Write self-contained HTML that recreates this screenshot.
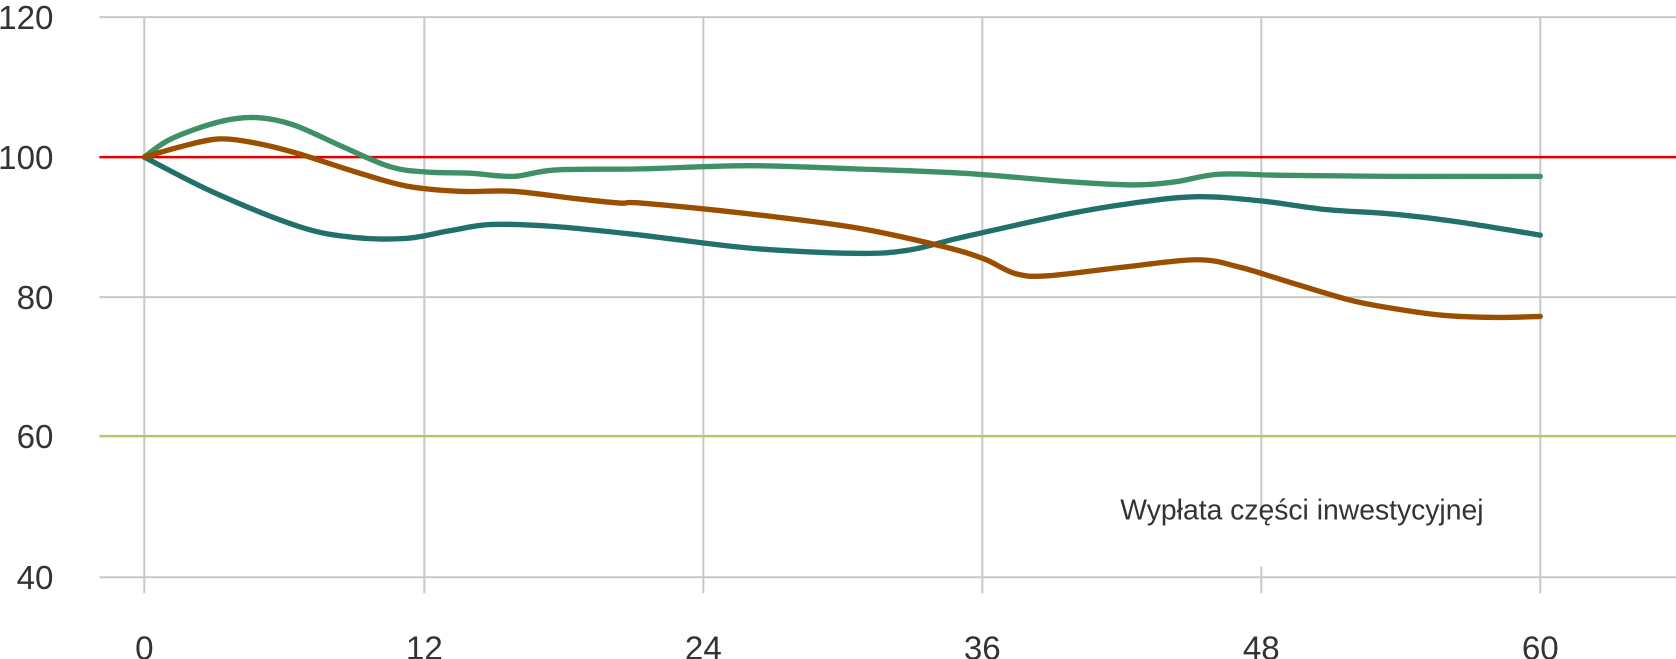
<!DOCTYPE html>
<html><head><meta charset="utf-8"><style>
html,body{margin:0;padding:0;background:#fff;}
svg{display:block;}
text{font-family:"Liberation Sans",sans-serif;fill:#333;font-weight:300;}
</style></head><body>
<svg width="1676" height="659" viewBox="0 0 1676 659" xmlns="http://www.w3.org/2000/svg">
<g transform="scale(1.0689)">
<g stroke="#c8c8c8" stroke-width="1.9" fill="none">
<line x1="93" y1="16" x2="1568" y2="16"/>
<line x1="93" y1="278" x2="1568" y2="278"/>
<line x1="93" y1="540" x2="1568" y2="540"/>
<line x1="135" y1="16" x2="135" y2="555"/>
<line x1="397" y1="16" x2="397" y2="555"/>
<line x1="658" y1="16" x2="658" y2="555"/>
<line x1="919" y1="16" x2="919" y2="555"/>
<line x1="1180" y1="16" x2="1180" y2="484"/>
<line x1="1180" y1="530" x2="1180" y2="555"/>
<line x1="1441" y1="16" x2="1441" y2="555"/>
</g>
<line x1="93" y1="147" x2="1568" y2="147" stroke="#e00000" stroke-width="2.3"/>
<line x1="93" y1="408" x2="1568" y2="408" stroke="#bcc46a" stroke-width="2.3"/>
<g fill="none" stroke-width="5" stroke-linecap="round" stroke-linejoin="round">
<polyline class="s" stroke="#3f9066" points="135,147 160,130 205,114 240,110 275,117 320,137 365,156 400,161 440,162 480,165 520,159 600,158 700,155 800,158 900,162 1000,170 1060,173 1100,170 1140,163 1200,164 1300,165 1441,165"/>
<polyline class="s" stroke="#22706a" points="135,147 200,180 280,212 330,222 380,223 420,216 460,210 520,212 600,220 700,232 800,237 850,234 900,222 1000,200 1060,190 1120,184 1180,188 1240,196 1300,200 1360,207 1441,220"/>
<polyline class="s" stroke="#9a4e00" points="135,147 170,137 205,130 240,134 280,144 330,160 380,174 430,179 480,179 540,186 580,190 600,190 700,200 800,213 880,230 920,242 950,256 980,258 1050,250 1120,243 1160,250 1200,262 1260,280 1300,288 1350,295 1400,297 1441,296"/>
</g>
<g font-size="31" text-anchor="end">
<text x="50" y="27">120</text>
<text x="50" y="158">100</text>
<text x="50" y="289">80</text>
<text x="50" y="419">60</text>
<text x="50" y="551">40</text>
</g>
<g font-size="31" text-anchor="middle">
<text x="135" y="617">0</text>
<text x="397" y="617">12</text>
<text x="658" y="617">24</text>
<text x="919" y="617">36</text>
<text x="1180" y="617">48</text>
<text x="1441" y="617">60</text>
</g>
<text x="1218" y="486" font-size="26.5" text-anchor="middle">Wypłata części inwestycyjnej</text>
</g>
</svg>
<script>
document.querySelectorAll('polyline.s').forEach(function(pl){
  var p=pl.getAttribute('points').trim().split(/\s+/).map(function(s){return s.split(',').map(Number);});
  var d='M'+p[0][0]+','+p[0][1];
  for(var i=0;i<p.length-1;i++){
    var p0=p[i-1]||p[i],p1=p[i],p2=p[i+1],p3=p[i+2]||p2;
    var c1x=p1[0]+(p2[0]-p0[0])/6,c1y=p1[1]+(p2[1]-p0[1])/6;
    var c2x=p2[0]-(p3[0]-p1[0])/6,c2y=p2[1]-(p3[1]-p1[1])/6;
    d+=' C'+c1x+','+c1y+' '+c2x+','+c2y+' '+p2[0]+','+p2[1];
  }
  var path=document.createElementNS('http://www.w3.org/2000/svg','path');
  path.setAttribute('d',d);path.setAttribute('stroke',pl.getAttribute('stroke'));
  pl.parentNode.replaceChild(path,pl);
});
</script>
</body></html>
